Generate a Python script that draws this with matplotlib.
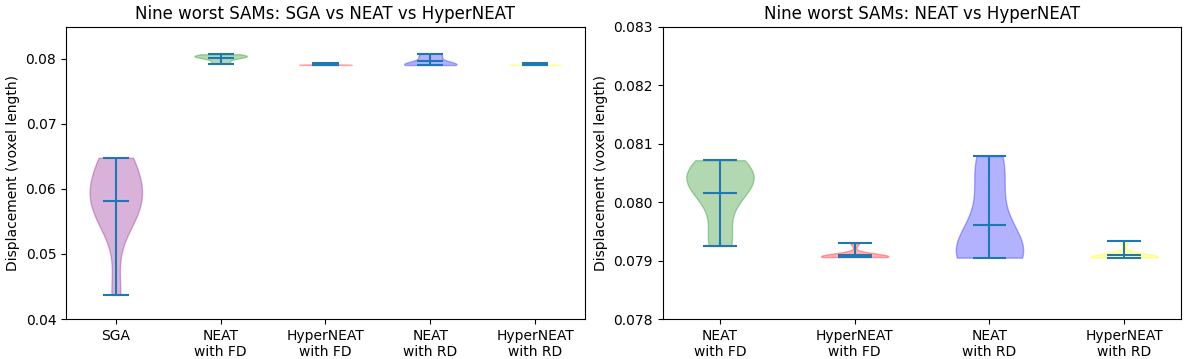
import numpy as np
import matplotlib
matplotlib.use("Agg")
import matplotlib.pyplot as plt

# --- displacement of the nine worst SAMs per method ---
sga = [0.0437, 0.0555, 0.0568, 0.0575, 0.0585, 0.0600, 0.0620, 0.0642, 0.0648]
neat_fd = [0.07925, 0.0794, 0.0800, 0.0803, 0.0804, 0.0804, 0.0805, 0.0805, 0.08072]
hyper_fd = [0.07906, 0.07906, 0.07907, 0.07907, 0.07907, 0.07908, 0.07908, 0.0791, 0.0793]
neat_rd = [0.07905, 0.07906, 0.07908, 0.0791, 0.0792, 0.0795, 0.0801, 0.0806, 0.08079]
hyper_rd = [0.07905, 0.07905, 0.07906, 0.07906, 0.07906, 0.07907, 0.07907, 0.0791, 0.07934]

labels_all = ["SGA", "NEAT\nwith FD", "HyperNEAT\nwith FD", "NEAT\nwith RD", "HyperNEAT\nwith RD"]
colors_all = ["purple", "green", "red", "blue", "yellow"]


def draw(ax, data, labels, colors):
    parts = ax.violinplot(data, showmeans=True)
    for body, c in zip(parts["bodies"], colors):
        body.set_facecolor(c)
        body.set_edgecolor(c)
        body.set_alpha(0.3)
    ax.set_xticks(np.arange(1, len(labels) + 1))
    ax.set_xticklabels(labels)
    ax.set_ylabel("Displacement (voxel length)")


fig, (ax1, ax2) = plt.subplots(1, 2, figsize=(11.86, 3.59), dpi=100)

draw(ax1, [sga, neat_fd, hyper_fd, neat_rd, hyper_rd], labels_all, colors_all)
ax1.set_ylim(0.04, 0.0849)
ax1.set_yticks([0.04, 0.05, 0.06, 0.07, 0.08])
ax1.set_title("Nine worst SAMs: SGA vs NEAT vs HyperNEAT")

draw(ax2, [neat_fd, hyper_fd, neat_rd, hyper_rd], labels_all[1:], colors_all[1:])
ax2.set_ylim(0.078, 0.083)
ax2.set_title("Nine worst SAMs: NEAT vs HyperNEAT")

fig.subplots_adjust(left=0.0557, right=0.9962, bottom=0.1114, top=0.9248, wspace=0.15)
fig.savefig("out.png", dpi=100)
